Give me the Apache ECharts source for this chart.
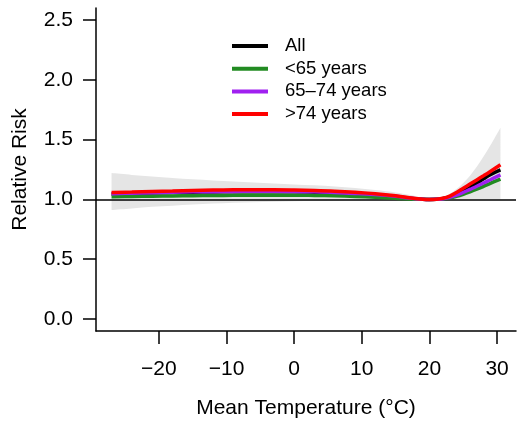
<!DOCTYPE html>
<html>
<head>
<meta charset="utf-8">
<script src="https://cdn.jsdelivr.net/npm/echarts@6/dist/echarts.min.js"></script>
<style>
  html, body { margin: 0; padding: 0; background: #fff; }
  #chart { width: 518px; height: 425px; }
</style>
</head>
<body>
<div id="chart"></div>
<script>
// Mean temperature (°C) at which relative risk is evaluated
const temps = [-27, -24, -21, -18, -15, -12, -9, -6, -3, 0, 3, 6, 9, 12, 15, 17, 19, 20, 21, 22, 23, 24, 25, 26, 27, 28, 29, 30.5];

// Relative risk by age group (reference temperature 20 °C)
const rrAll     = [1.045, 1.049, 1.053, 1.057, 1.060, 1.062, 1.064, 1.065, 1.065, 1.063, 1.060, 1.055, 1.047, 1.037, 1.023, 1.010, 1.002, 1.000, 1.001, 1.007, 1.020, 1.042, 1.070, 1.102, 1.137, 1.172, 1.207, 1.247];
const rrUnder65 = [1.023, 1.025, 1.027, 1.029, 1.031, 1.033, 1.034, 1.035, 1.035, 1.035, 1.033, 1.030, 1.025, 1.018, 1.010, 1.004, 1.001, 1.000, 1.001, 1.005, 1.013, 1.026, 1.043, 1.063, 1.085, 1.109, 1.134, 1.170];
const rr65to74  = [1.048, 1.052, 1.056, 1.060, 1.063, 1.065, 1.067, 1.068, 1.068, 1.066, 1.063, 1.058, 1.050, 1.040, 1.026, 1.012, 1.002, 1.000, 1.001, 1.006, 1.017, 1.035, 1.058, 1.084, 1.110, 1.137, 1.164, 1.205];
const rrOver74  = [1.058, 1.062, 1.067, 1.071, 1.075, 1.078, 1.080, 1.081, 1.081, 1.079, 1.075, 1.069, 1.060, 1.048, 1.030, 1.013, 1.002, 1.000, 1.002, 1.010, 1.028, 1.058, 1.093, 1.128, 1.163, 1.198, 1.234, 1.290];

// 95% confidence band for the overall curve
const ciLower = [0.912, 0.925, 0.938, 0.948, 0.957, 0.965, 0.972, 0.977, 0.981, 0.985, 0.988, 0.991, 0.993, 0.995, 0.997, 0.998, 0.999, 1.000, 1.000, 1.000, 1.000, 1.000, 1.000, 1.000, 1.000, 1.000, 1.000, 1.000];
const ciUpper = [1.220, 1.205, 1.191, 1.179, 1.168, 1.158, 1.149, 1.141, 1.133, 1.125, 1.118, 1.108, 1.095, 1.078, 1.058, 1.038, 1.012, 1.000, 1.006, 1.020, 1.048, 1.088, 1.138, 1.198, 1.272, 1.358, 1.450, 1.600];

// Axis ticks
const xTicks = [-20, -10, 0, 10, 20, 30];
const yTicks = [0, 0.5, 1.0, 1.5, 2.0, 2.5];

const seriesNames = ['All', '<65 years', '65\u201374 years', '>74 years'];
const seriesColors = ['#000000', '#228B22', '#A020F0', '#FF0000'];
const seriesValues = [rrAll, rrUnder65, rr65to74, rrOver74];

const FONT = 'Liberation Sans, Arial, sans-serif';
const pairs = ys => temps.map((t, i) => [t, ys[i]]);

const bandData = temps.map((t, i) => [t, ciLower[i], ciUpper[i]]);

// Smooth path segments (Catmull-Rom as cubic Bezier) through pixel points
function curveTo(pts) {
  let d = '';
  const n = pts.length;
  for (let i = 0; i < n - 1; i++) {
    const p0 = pts[Math.max(i - 1, 0)];
    const p1 = pts[i];
    const p2 = pts[i + 1];
    const p3 = pts[Math.min(i + 2, n - 1)];
    const c1x = p1[0] + (p2[0] - p0[0]) / 6, c1y = p1[1] + (p2[1] - p0[1]) / 6;
    const c2x = p2[0] - (p3[0] - p1[0]) / 6, c2y = p2[1] - (p3[1] - p1[1]) / 6;
    d += ' C' + c1x + ',' + c1y + ' ' + c2x + ',' + c2y + ' ' + p2[0] + ',' + p2[1];
  }
  return d;
}

const bandSeries = {
  name: 'ci',
  type: 'custom',
  data: bandData,
  encode: { x: 0, y: [1, 2] },
  silent: true,
  z: 1,
  renderItem: function (params, api) {
    if (params.dataIndexInside !== 0) return null;
    const upper = bandData.map(d => api.coord([d[0], d[2]]));
    const lower = bandData.slice().reverse().map(d => api.coord([d[0], d[1]]));
    const pathData = 'M' + upper[0][0] + ',' + upper[0][1] + curveTo(upper) +
      ' L' + lower[0][0] + ',' + lower[0][1] + curveTo(lower) + ' Z';
    return {
      type: 'path',
      shape: { pathData: pathData },
      style: { fill: '#e5e5e5', stroke: null }
    };
  }
};

const lineSeries = seriesNames.map((name, k) => ({
  name: name,
  type: 'line',
  data: pairs(seriesValues[k]),
  smooth: 0.4,
  showSymbol: false,
  symbol: 'none',
  color: seriesColors[k],
  lineStyle: { color: seriesColors[k], width: 3.5 },
  z: 3 + k,
  markLine: k === 0 ? {
    silent: true,
    symbol: 'none',
    label: { show: false },
    lineStyle: { color: '#000', width: 1.5, type: 'solid' },
    data: [{ yAxis: 1 }],
    z: 2
  } : undefined
}));

const chart = echarts.init(document.getElementById('chart'), null, { renderer: 'canvas' });

chart.setOption({
  animation: false,
  backgroundColor: '#fff',
  grid: { left: 96, right: 2, top: 8, bottom: 94 },
  legend: {
    left: 232,
    top: 36,
    padding: 0,
    orient: 'vertical',
    icon: 'rect',
    itemWidth: 36,
    itemHeight: 4,
    itemGap: 2.7,
    data: seriesNames,
    textStyle: { fontFamily: FONT, fontSize: 18.5, color: '#000', lineHeight: 20, padding: [0, 0, 0, 12] }
  },
  xAxis: {
    type: 'value',
    min: -29.3,
    max: 32.8,
    splitLine: { show: false },
    axisLine: { show: true, onZero: false, lineStyle: { color: '#000', width: 1.5 } },
    axisTick: { show: true, customValues: xTicks, length: 13, lineStyle: { color: '#000', width: 1.5 } },
    axisLabel: {
      customValues: xTicks,
      margin: 28,
      fontFamily: FONT,
      fontSize: 21,
      color: '#000',
      formatter: v => (v < 0 ? '\u2212' + Math.abs(v) : String(v))
    },
    name: 'Mean Temperature (\u00B0C)',
    nameLocation: 'middle',
    nameGap: 67,
    nameTextStyle: { fontFamily: FONT, fontSize: 21, color: '#000' }
  },
  yAxis: {
    type: 'value',
    min: -0.1,
    max: 2.6,
    splitLine: { show: false },
    axisLine: { show: true, onZero: false, lineStyle: { color: '#000', width: 1.5 } },
    axisTick: { show: true, customValues: yTicks, length: 13, lineStyle: { color: '#000', width: 1.5 } },
    axisLabel: {
      customValues: yTicks,
      margin: 23,
      fontFamily: FONT,
      fontSize: 21,
      color: '#000',
      formatter: v => v.toFixed(1)
    },
    name: 'Relative Risk',
    nameLocation: 'middle',
    nameGap: 65,
    nameTextStyle: { fontFamily: FONT, fontSize: 21, color: '#000' }
  },
  series: [bandSeries].concat(lineSeries)
});
</script>
</body>
</html>
